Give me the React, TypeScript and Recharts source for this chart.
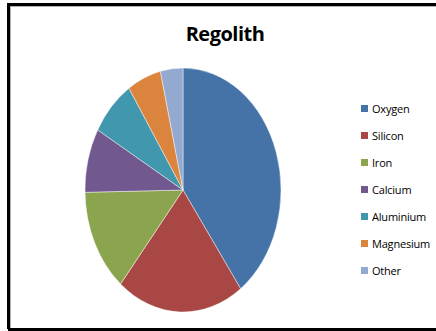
import { PieChart, Pie, Cell } from "recharts";

const elements = ["Oxygen", "Silicon", "Iron", "Calcium", "Aluminium", "Magnesium", "Other"];
const percents = [40, 21, 13.7, 8.5, 7.5, 5.6, 3.7];
const colors = ["#4673a7", "#a84744", "#8aa54d", "#71598f", "#4198ae", "#db843d", "#93a9d0"];

const data = elements.map((name, i) => ({ name, value: percents[i] }));

// the reference pie is an ellipse, so the circular pie gets stretched vertically
const CX = 183;
const CY = 190;
const RX = 98;
const RY = 122;
const M = 5; // default chart margin

export default function App() {
  return (
    <div style={{ position: "absolute", left: 0, top: 0, width: 436, height: 331, background: "#fff", overflow: "hidden", fontFamily: "'Open Sans', 'Liberation Sans', sans-serif" }}>
      {/* frame */}
      <div style={{ position: "absolute", left: 7, top: 3, width: 429, height: 3, background: "#000" }} />
      <div style={{ position: "absolute", left: 7, top: 3, width: 3, height: 326, background: "#000" }} />
      <div style={{ position: "absolute", left: 8, top: 328, width: 428, height: 3, background: "#000" }} />
      <div style={{ position: "absolute", left: 10, top: 6, width: 426, height: 1, background: "#b0b0b0" }} />
      <div style={{ position: "absolute", left: 10, top: 6, width: 1, height: 322, background: "#b0b0b0" }} />

      <div style={{ position: "absolute", left: 0, top: 20, width: 450, textAlign: "center", fontSize: 20, fontWeight: 700, color: "#000", letterSpacing: -0.5 }}>
        Regolith
      </div>

      <div style={{ position: "absolute", left: 0, top: 0, transformOrigin: `${CX}px ${CY}px`, transform: `scaleY(${RY / RX})` }}>
        <PieChart width={300} height={300} margin={{ top: M, right: M, bottom: M, left: M }}>
          <Pie
            data={data}
            dataKey="value"
            nameKey="name"
            cx={CX - M}
            cy={CY - M}
            outerRadius={RX}
            startAngle={90}
            endAngle={-270}
            stroke="#ffffff"
            strokeWidth={0.4}
            isAnimationActive={false}
          >
            {data.map((d, i) => (
              <Cell key={d.name} fill={colors[i]} />
            ))}
          </Pie>
        </PieChart>
      </div>

      <div style={{ position: "absolute", left: 361, top: 95 }}>
        {elements.map((name, i) => (
          <div key={name} style={{ display: "flex", alignItems: "center", height: 27, fontSize: 11, color: "#000", letterSpacing: -0.2 }}>
            <span style={{ display: "inline-block", width: 7, height: 7, background: colors[i], marginRight: 4 }} />
            {name}
          </div>
        ))}
      </div>
    </div>
  );
}
